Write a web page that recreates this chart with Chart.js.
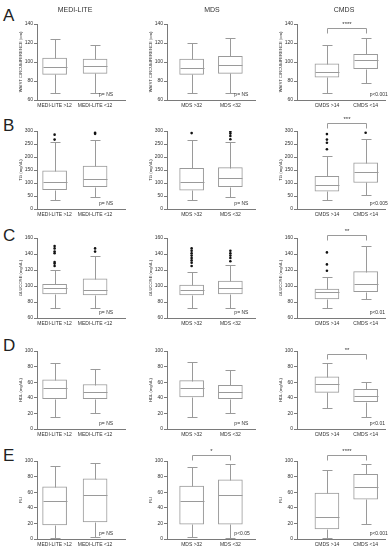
<!DOCTYPE html>
<html>
<head>
<meta charset="utf-8">
<script src="https://cdn.jsdelivr.net/npm/chart.js@4.4.1/dist/chart.umd.min.js"></script>
<style>
body { margin: 0; background: #fff; width: 389px; height: 550px; position: relative; overflow: hidden; font-family: "Liberation Sans", Arial, sans-serif; }
.cell { position: absolute; width: 130px; height: 110px; }
.letter { position: absolute; font-size: 17px; line-height: 17px; color: #222; }
.head { position: absolute; font-size: 7px; line-height: 7px; color: #333; transform: translateX(-50%); white-space: nowrap; }
</style>
</head>
<body>
<script>
// panel headings and group names
const columns = ['MEDI-LITE', 'MDS', 'CMDS'];
const groupLabels = [
    ['MEDI-LITE >12', 'MEDI-LITE <12'],
    ['MDS >32', 'MDS <32'],
    ['CMDS >14', 'CMDS <14']
];
const rowLetters = ['A', 'B', 'C', 'D', 'E'];
const yTitles = ['WAIST CIRCUMFERENCE (cm)', 'TG (mg/dL)', 'GLUCOSE (mg/dL)', 'HDL (mg/dL)', 'FLI'];
const yMin = [60, 0, 60, 0, 0];
const yMax = [140, 300, 160, 100, 100];
const yStep = [20, 50, 20, 20, 20];

// box stats per column, per group: [lower whisker, Q1, median, Q3, upper whisker]
const waistStats = [
    [[67, 87, 95, 104, 124], [67, 88, 96, 103, 118]],
    [[67, 87, 94, 103, 120], [67, 88, 97, 106, 125]],
    [[67, 84, 90, 98, 118], [78, 93, 102, 108, 125]]
];
const tgStats = [
    [[36, 74, 103, 147, 258], [46, 86, 114, 165, 267]],
    [[36, 72, 104, 156, 267], [46, 86, 118, 159, 257]],
    [[33, 69, 92, 126, 205], [53, 102, 142, 178, 269]]
];
const glucoseStats = [
    [[72, 90, 97, 102, 120], [72, 89, 95, 109, 138]],
    [[72, 89, 95, 101, 118], [73, 90, 98, 106, 126]],
    [[72, 84, 92, 96, 111], [84, 93, 102, 118, 150]]
];
const hdlStats = [
    [[15, 39, 53, 63, 85], [20, 39, 47, 57, 77]],
    [[15, 41, 52, 62, 86], [20, 39, 48, 56, 76]],
    [[27, 47, 58, 67, 85], [15, 35, 42, 51, 60]]
];
const fliStats = [
    [[1, 18, 49, 67, 93], [2, 22, 56, 77, 97]],
    [[2, 19, 49, 68, 92], [1, 19, 57, 76, 96]],
    [[1, 13, 28, 59, 89], [19, 51, 67, 83, 96]]
];

// outlier dots per column, per group
const waistOutliers = [[[], []], [[], []], [[], []]];
const tgOutliers = [
    [[286, 267], [293, 289]],
    [[292], [297, 290, 281, 268]],
    [[288, 267, 255, 230], [293]]
];
const glucoseOutliers = [
    [[150, 147, 143, 141, 130, 128, 125], [147, 143]],
    [[147, 144, 141, 138, 135, 132, 129, 125], [144, 141, 138, 135, 131]],
    [[142, 127, 119], []]
];
const hdlOutliers = [[[], []], [[], []], [[], []]];
const fliOutliers = [[[], []], [[], []], [[], []]];

const pTexts = [
    ['p= NS', 'p= NS', 'p<0.001'],
    ['p= NS', 'p= NS', 'p<0.005'],
    ['p= NS', 'p= NS', 'p<0.01'],
    ['p= NS', 'p= NS', 'p<0.01'],
    ['p= NS', 'p<0.05', 'p<0.001']
];
const starTexts = [
    [null, null, '****'],
    [null, null, '***'],
    [null, null, '**'],
    [null, null, '**'],
    [null, '*', '****']
];
const bracketY = [
    [null, null, 136],
    [null, null, 331],
    [null, null, 164],
    [null, null, 96],
    [null, 108, 108]
];

const allStats = [waistStats, tgStats, glucoseStats, hdlStats, fliStats];
const allOutliers = [waistOutliers, tgOutliers, glucoseOutliers, hdlOutliers, fliOutliers];

// layout
const plotTop = [24, 21, 18, 21, 21];
const plotBottom = [100, 99, 98, 99, 99];
const xMin = [0.565, 0.364, 0.227];
const xMax = [2.739, 2.636, 2.5];
const boxColor = '#9a9a9a';
const axisColor = '#7a7a7a';
const textColor = '#333';
const fontFamily = '"Liberation Sans", Arial, sans-serif';

// whiskers, caps, medians, brackets and p text
const boxPlugin = {
    id: 'boxExtras',
    afterDatasetsDraw(chart) {
        const { ctx, scales: { x, y }, chartArea } = chart;
        const o = chart.options.plugins.boxExtras;
        ctx.save();
        ctx.strokeStyle = boxColor;
        ctx.lineWidth = 1;
        o.stats.forEach((s, i) => {
            const cx = Math.round(x.getPixelForValue(i + 1)) + 0.5;
            const py = v => Math.round(y.getPixelForValue(v)) + 0.5;
            ctx.beginPath();
            ctx.moveTo(cx, py(s[3])); ctx.lineTo(cx, py(s[4]));
            ctx.moveTo(cx, py(s[1])); ctx.lineTo(cx, py(s[0]));
            ctx.moveTo(cx - 5, py(s[4])); ctx.lineTo(cx + 5, py(s[4]));
            ctx.moveTo(cx - 5, py(s[0])); ctx.lineTo(cx + 5, py(s[0]));
            ctx.moveTo(cx - 12, py(s[2])); ctx.lineTo(cx + 12, py(s[2]));
            ctx.stroke();
        });
        if (o.stars) {
            const x1 = Math.round(x.getPixelForValue(1)) + 0.5;
            const x2 = Math.round(x.getPixelForValue(2)) + 0.5;
            const by = Math.round(y.getPixelForValue(o.bracket)) + 0.5;
            ctx.beginPath();
            ctx.moveTo(x1, by + 5); ctx.lineTo(x1, by); ctx.lineTo(x2, by); ctx.lineTo(x2, by + 5);
            ctx.stroke();
            ctx.fillStyle = textColor;
            ctx.font = '6px ' + fontFamily;
            ctx.textAlign = 'center';
            ctx.textBaseline = 'bottom';
            ctx.fillText(o.stars, (x1 + x2) / 2, by - 1);
        }
        ctx.fillStyle = textColor;
        ctx.font = '5px ' + fontFamily;
        ctx.textAlign = 'left';
        ctx.textBaseline = 'bottom';
        ctx.fillText(o.p, x.getPixelForValue(2) + 4, chartArea.bottom - 3);
        ctx.restore();
    }
};

rowLetters.forEach((letter, r) => {
    const l = document.createElement('div');
    l.className = 'letter';
    l.style.left = '3px';
    l.style.top = (r * 110 + 7) + 'px';
    l.textContent = letter;
    document.body.appendChild(l);

    columns.forEach((col, c) => {
        const div = document.createElement('div');
        div.className = 'cell';
        div.style.left = (c * 130) + 'px';
        div.style.top = (r * 110) + 'px';
        const canvas = document.createElement('canvas');
        canvas.width = 130;
        canvas.height = 110;
        div.appendChild(canvas);
        document.body.appendChild(div);

        const stats = allStats[r][c];
        const outliers = allOutliers[r][c];
        const outlierPoints = [];
        outliers.forEach((list, i) => list.forEach(v => outlierPoints.push({ x: i + 1, y: v })));

        new Chart(canvas.getContext('2d'), {
            type: 'bar',
            data: {
                datasets: [{
                    type: 'bar',
                    data: stats.map((s, i) => ({ x: i + 1, y: [s[1], s[3]] })),
                    backgroundColor: '#fff',
                    borderColor: boxColor,
                    borderWidth: 1,
                    borderSkipped: false,
                    barThickness: 24
                }, {
                    type: 'scatter',
                    data: outlierPoints,
                    pointRadius: 1.3,
                    backgroundColor: '#111',
                    borderWidth: 0
                }]
            },
            options: {
                responsive: false,
                animation: false,
                layout: { padding: { top: plotTop[r], right: 5, left: 18, bottom: 0 } },
                plugins: {
                    legend: { display: false },
                    tooltip: { enabled: false },
                    boxExtras: { stats: stats, p: pTexts[r][c], stars: starTexts[r][c], bracket: bracketY[r][c] }
                },
                scales: {
                    x: {
                        type: 'linear',
                        offset: false,
                        min: xMin[c],
                        max: xMax[c],
                        afterBuildTicks: s => { s.ticks = [{ value: 1 }, { value: 2 }]; },
                        afterFit: s => { s.height = 110 - plotBottom[r]; },
                        grid: { display: false, drawTicks: false },
                        border: { display: true, color: axisColor, width: 1 },
                        ticks: {
                            font: { size: 5, family: fontFamily },
                            color: textColor,
                            padding: 3,
                            maxRotation: 0,
                            autoSkip: false,
                            callback: v => groupLabels[c][v - 1]
                        }
                    },
                    y: {
                        min: yMin[r],
                        max: yMax[r],
                        afterFit: s => { s.width = 19; },
                        grid: { drawOnChartArea: false, drawTicks: true, tickLength: 3, color: axisColor },
                        border: { display: true, color: axisColor, width: 1 },
                        ticks: {
                            stepSize: yStep[r],
                            font: { size: 5, family: fontFamily },
                            color: textColor,
                            padding: 1
                        },
                        title: {
                            display: true,
                            text: yTitles[r],
                            font: { size: 4.2, family: fontFamily },
                            color: textColor,
                            padding: 0
                        }
                    }
                }
            },
            plugins: [boxPlugin]
        });
    });
});

const headX = [75, 212, 344];
columns.forEach((col, c) => {
    const h = document.createElement('div');
    h.className = 'head';
    h.style.left = headX[c] + 'px';
    h.style.top = '6px';
    h.textContent = col;
    document.body.appendChild(h);
});
</script>
</body>
</html>
